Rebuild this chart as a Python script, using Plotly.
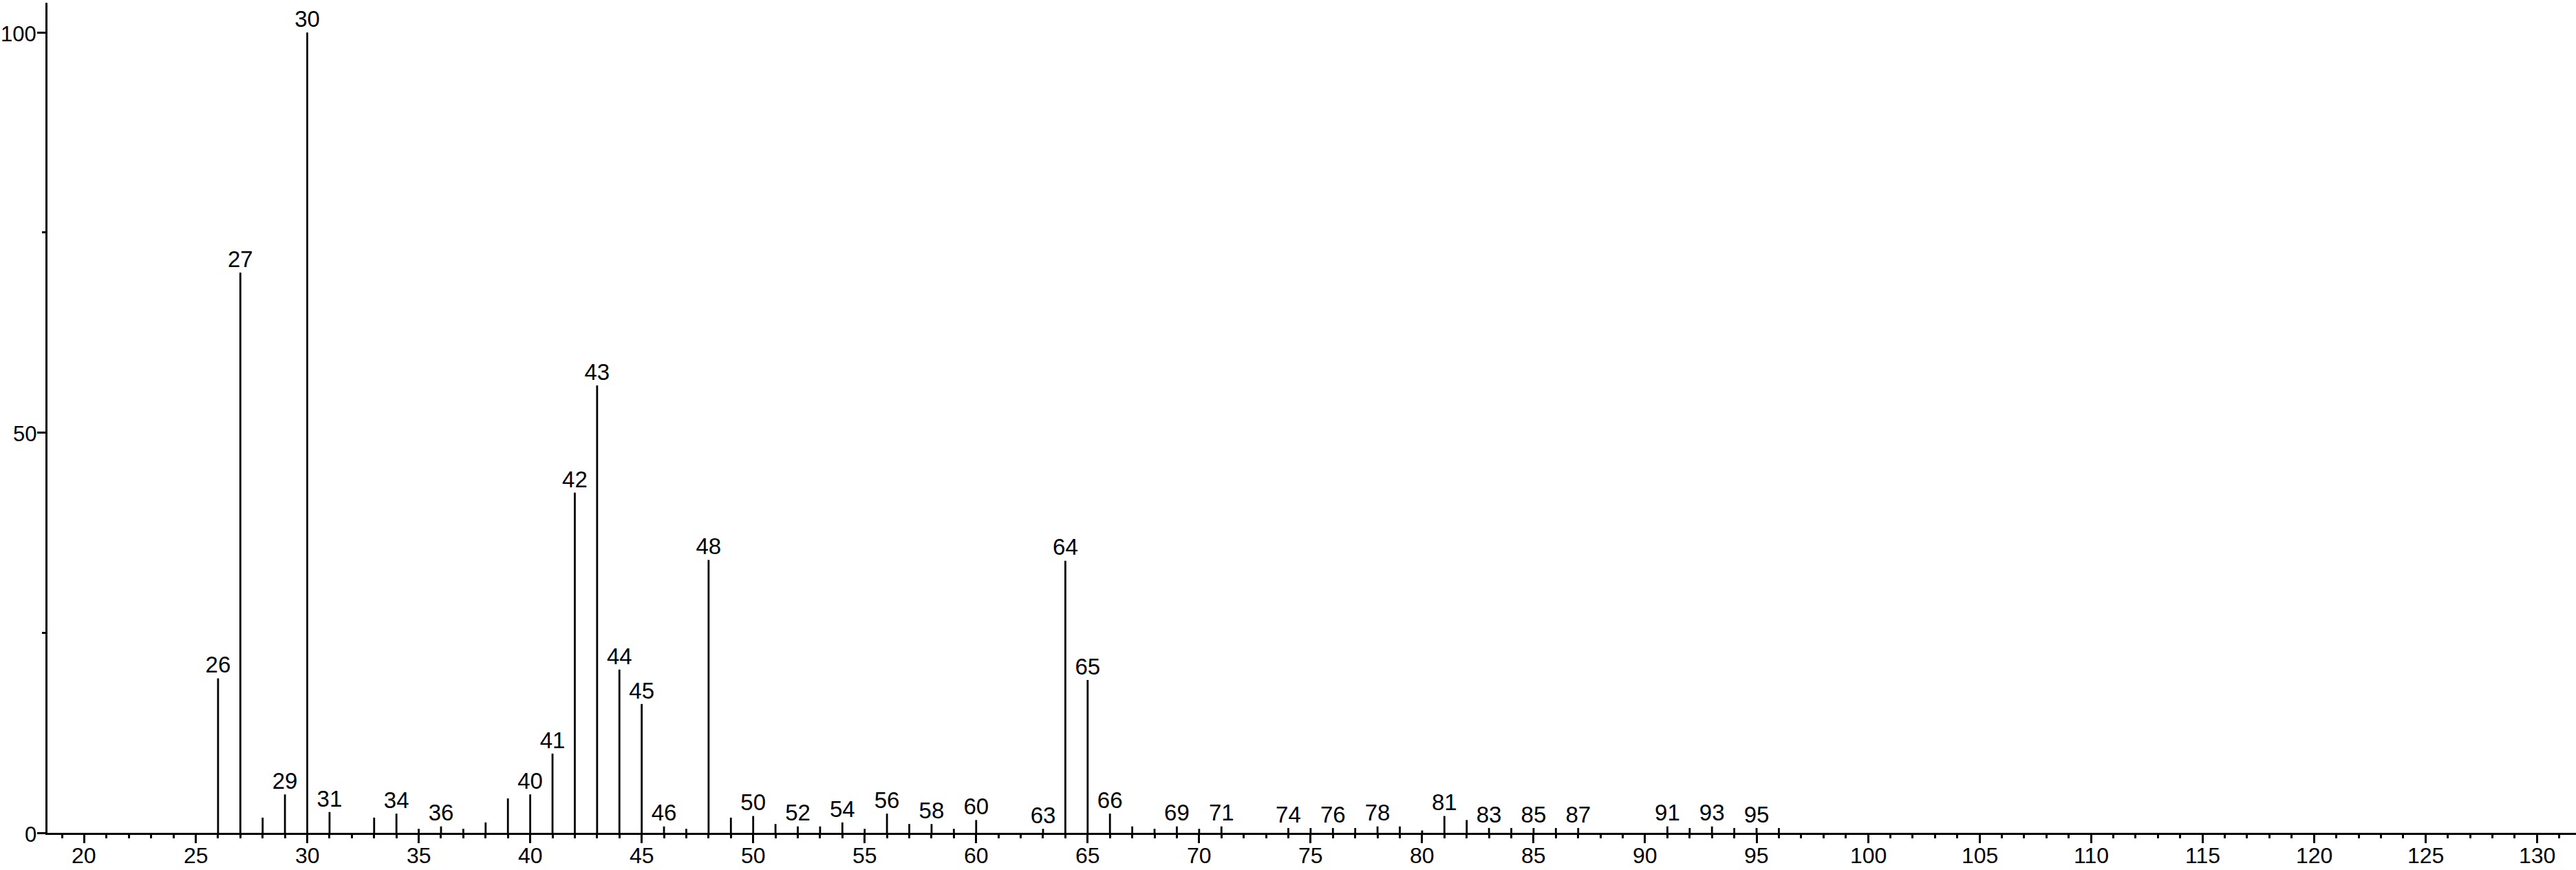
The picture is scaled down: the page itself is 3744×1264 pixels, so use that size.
import plotly.graph_objects as go

# m/z values and relative intensities
mz = [26, 27, 28, 29, 30, 31, 33, 34, 35, 36, 37, 38, 39, 40, 41, 42, 43, 44, 45,
      46, 47, 48, 49, 50, 51, 52, 53, 54, 55, 56, 57, 58, 59, 60, 63, 64, 65, 66,
      67, 68, 69, 70, 71, 74, 75, 76, 77, 78, 79, 80, 81, 82, 83, 84, 85, 86, 87,
      91, 92, 93, 94, 95, 96]
intensity = [19.3, 70.0, 1.9, 4.8, 100.0, 2.6, 1.9, 2.4, 0.5, 0.8, 0.5, 1.3, 4.3, 4.8,
             9.9, 42.5, 55.9, 20.4, 16.1, 0.8, 0.5, 34.1, 1.9, 2.1, 1.1, 0.8, 0.8, 1.3,
             0.5, 2.4, 1.1, 1.1, 0.5, 1.6, 0.5, 34.0, 19.1, 2.4, 0.8, 0.5, 0.8, 0.5,
             0.8, 0.6, 0.6, 0.6, 0.6, 0.8, 0.8, 0.3, 2.1, 1.6, 0.6, 0.6, 0.6, 0.6,
             0.6, 0.8, 0.6, 0.8, 0.6, 0.6, 0.6]

# peaks that carry a text label
labeled_mz = [26, 27, 29, 30, 31, 34, 36, 40, 41, 42, 43, 44, 45, 46, 48, 50, 52, 54,
              56, 58, 60, 63, 64, 65, 66, 69, 71, 74, 76, 78, 81, 83, 85, 87, 91, 93, 95]

x_tick_vals = list(range(20, 131, 5))
x_tick_text = [str(v) for v in x_tick_vals]
y_tick_vals = [0, 50, 100]
y_tick_text = ["0", "50", "100"]

FAMILY = "Liberation Sans, Arial, Helvetica, sans-serif"
tick_font = dict(family=FAMILY, size=32, color="black")
ytick_font = dict(family=FAMILY, size=31, color="black")
peak_font = dict(family=FAMILY, size=33, color="black")

inten_map = dict(zip(mz, intensity))

# stems
sx, sy = [], []
for m, v in zip(mz, intensity):
    sx += [m, m, None]
    sy += [0, v, None]

fig = go.Figure()
fig.add_trace(go.Scatter(x=sx, y=sy, mode="lines",
                         line=dict(color="black", width=2.8),
                         hoverinfo="skip", showlegend=False))
fig.add_trace(go.Scatter(x=labeled_mz, y=[inten_map[m] for m in labeled_mz],
                         mode="text", text=[str(m) for m in labeled_mz],
                         textposition="top center",
                         textfont=peak_font,
                         showlegend=False, hoverinfo="skip"))

# x tick labels as annotations placed just below the axis
for v, t in zip(x_tick_vals, x_tick_text):
    fig.add_annotation(x=v, y=0, xref="x", yref="paper", text=t,
                       showarrow=False, yanchor="middle", xanchor="center",
                       yshift=-33, font=tick_font)

# y tick labels as annotations placed left of the ticks
for v, t in zip(y_tick_vals, y_tick_text):
    fig.add_annotation(x=0, y=v, xref="paper", yref="y", text=t,
                       showarrow=False, yanchor="middle", xanchor="right",
                       xshift=-15, yshift=-2, font=ytick_font, borderpad=0)

fig.update_layout(
    width=3744, height=1264,
    margin=dict(l=69, r=0, t=4, b=54),
    paper_bgcolor="white", plot_bgcolor="white",
    font=tick_font,
    xaxis=dict(range=[18.35, 131.75], showgrid=False, zeroline=False,
               automargin=False,
               showline=True, linecolor="black", linewidth=3,
               tickmode="array", tickvals=x_tick_vals, showticklabels=False,
               ticks="outside", ticklen=12, tickwidth=3, tickcolor="black",
               minor=dict(dtick=1, tick0=0, ticks="outside", ticklen=5,
                          tickwidth=3, tickcolor="black", showgrid=False)),
    yaxis=dict(range=[0, 103.72], showgrid=False, zeroline=False,
               automargin=False,
               showline=True, linecolor="black", linewidth=3,
               tickmode="array", tickvals=y_tick_vals, showticklabels=False,
               ticks="outside", ticklen=12, tickwidth=3, tickcolor="black",
               minor=dict(tickmode="array", tickvals=[25, 75], ticks="outside",
                          ticklen=5, tickwidth=3, tickcolor="black", showgrid=False)),
)

fig.write_html("out.html",
               config={"displayModeBar": False},
               post_script="document.body.style.margin='0px';"
                           "document.body.style.overflow='hidden';")
